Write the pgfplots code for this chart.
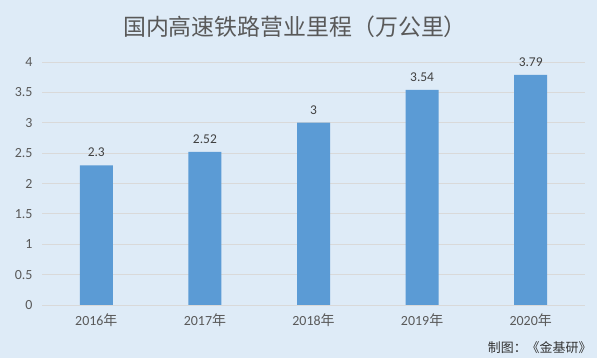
\documentclass[border=0pt]{standalone}
\usepackage{pgfplots}
\pgfplotsset{compat=1.18}
\usepackage{fontspec}
\setmainfont{Carlito}
\newfontfamily\cjk{Noto Sans CJK SC}
\definecolor{bg}{RGB}{222,235,247}
\definecolor{barc}{RGB}{91,155,213}
\definecolor{txt}{RGB}{89,89,89}
\definecolor{gridc}{RGB}{217,217,217}
\begin{document}
\begin{tikzpicture}
\fill[bg] (0,0) rectangle (597bp,358bp);
\begin{axis}[
  at={(42bp,53bp)}, anchor=south west,
  scale only axis, width=543bp, height=243bp,
  xmin=-0.5, xmax=4.5, ymin=0, ymax=4,
  ytick={0,0.5,...,4},
  xtick=data,
  xticklabels={{2016\cjk 年},{2017\cjk 年},{2018\cjk 年},{2019\cjk 年},{2020\cjk 年}},
  axis line style={draw=none},
  axis x line*=bottom,
  x axis line style={draw=gridc},
  major tick length=0pt,
  ymajorgrids, grid style={gridc, line width=0.8pt},
  ticklabel style={font=\fontsize{14}{16}\selectfont, text=txt},
  /pgf/number format/assume math mode=true,
  yticklabel style={xshift=-6bp},
  xticklabel style={yshift=-5bp},
  nodes near coords,
  nodes near coords style={font=\fontsize{13.5}{15}\selectfont, text=black!75, yshift=5bp},
  point meta=explicit symbolic,
]
\addplot[ybar, bar width=33bp, fill=barc, draw=none] coordinates {
  (0,2.3) [2.3]
  (1,2.52) [2.52]
  (2,3) [3]
  (3,3.54) [3.54]
  (4,3.79) [3.79]
};
\end{axis}
\node[font=\cjk\fontsize{23}{26}\selectfont, text=txt] at (295bp,331bp) {国内高速铁路营业里程（万公里）};
\node[font=\cjk\fontsize{13}{15}\selectfont, text=black!80, anchor=east] at (595bp,10bp) {制图：《金基研》};
\pgfresetboundingbox
\path (0,0) rectangle (597bp,358bp);
\end{tikzpicture}
\end{document}
